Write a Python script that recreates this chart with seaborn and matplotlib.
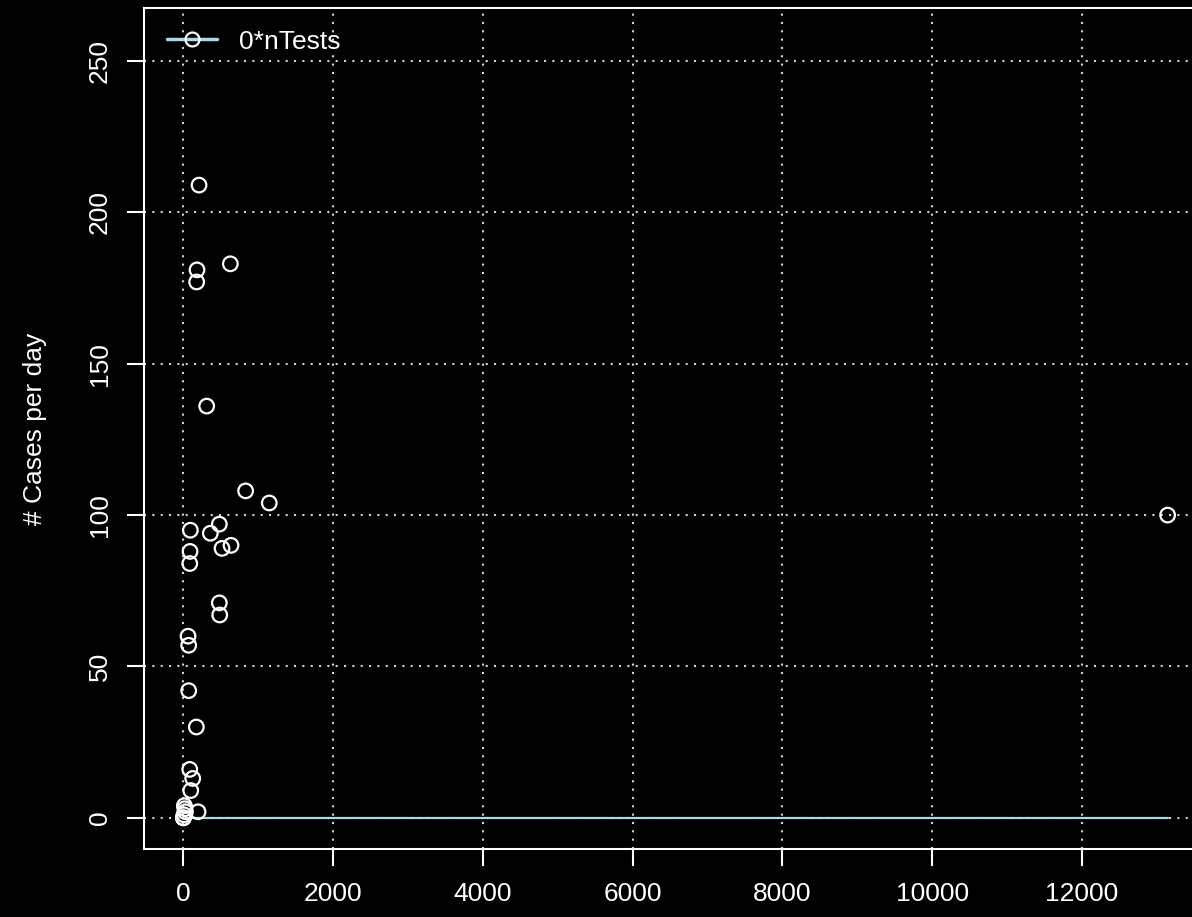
import numpy as np
import pandas as pd
import seaborn as sns
import matplotlib.pyplot as plt
from matplotlib.lines import Line2D

# values
nTests = [0, 0, 8, 13, 20, 27, 98, 125, 85, 196, 173, 71, 71, 62, 485, 480,
          85, 89, 516, 636, 360, 480, 93, 831, 1147, 311, 177, 182, 627, 209, 13143]
cases = [0, 0, 1, 4, 3, 2, 9, 13, 16, 2, 30, 42, 57, 60, 67, 71,
         84, 88, 89, 90, 94, 97, 95, 108, 104, 136, 177, 181, 183, 209, 100]
x_ticks = [0, 2000, 4000, 6000, 8000, 10000, 12000]
y_ticks = [0, 50, 100, 150, 200, 250]

df = pd.DataFrame({"nTests": nTests, "cases": cases})
df["zero"] = 0 * df["nTests"]

sns.set_style("ticks")
plt.rcParams["font.family"] = ["Liberation Sans", "DejaVu Sans"]
plt.rcParams.update({
    "figure.facecolor": "black", "axes.facecolor": "black",
    "axes.edgecolor": "white", "text.color": "white",
    "xtick.color": "white", "ytick.color": "white",
    "axes.labelcolor": "white",
})

fig = plt.figure(figsize=(11.92, 9.17), dpi=100)
# plot box runs past the right edge of the picture, as in the reference
ax = fig.add_axes([144 / 1192, 68 / 917, 1063 / 1192, 841 / 917])

sns.lineplot(data=df, x="nTests", y="zero", color="lightblue", linewidth=1.6,
             estimator=None, ax=ax, legend=False, zorder=2)
sns.scatterplot(data=df, x="nTests", y="cases", marker="o", s=110,
                linewidth=1.6, ax=ax, legend=False, zorder=3)
pts = ax.collections[-1]
pts.set_facecolor("none")
pts.set_edgecolor("white")

ax.set_xlim(-526, 13669)
ax.set_ylim(-10.3, 267.5)
ax.set_xticks(x_ticks)
ax.set_yticks(y_ticks)
ax.grid(True, color="lightgray", linestyle=(0, (1, 3)), linewidth=1.5)
ax.set_axisbelow(True)

for s in ax.spines.values():
    s.set_linewidth(1.5)
    s.set_color("white")
ax.tick_params(axis="both", length=12, width=1.5, labelsize=19)
ax.tick_params(axis="x", pad=12)
ax.tick_params(axis="y", pad=11, labelrotation=90)
for t in ax.get_yticklabels():
    t.set_verticalalignment("center")

ax.set_xlabel("")
ax.set_ylabel("# Cases per day", fontsize=19)
ax.yaxis.set_label_coords(-0.1025, 0.5)
ax.yaxis.label.set_verticalalignment("center")

handle = Line2D([], [], color="lightblue", linewidth=2.5, marker="o",
                markersize=10, markerfacecolor="none", markeredgecolor="white",
                markeredgewidth=1.6)
ax.legend([handle], ["0*nTests"], loc="upper left", frameon=False,
          fontsize=19, handlelength=1.9, handletextpad=0.85,
          bbox_to_anchor=(156 / 1192, 1 - 19 / 917),
          bbox_transform=fig.transFigure, borderaxespad=0)

fig.savefig("out.png", dpi=100, facecolor="black")
